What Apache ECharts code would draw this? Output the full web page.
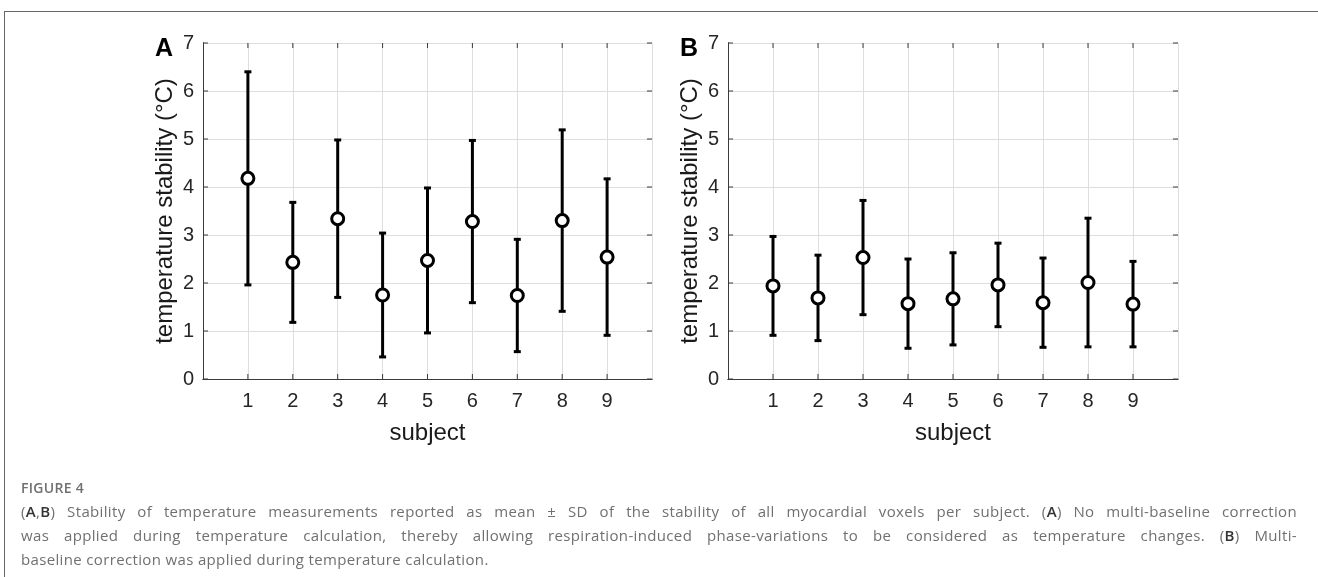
<!DOCTYPE html>
<html>
<head>
<meta charset="utf-8">
<script src="https://cdn.jsdelivr.net/npm/echarts@6.0.0/dist/echarts.min.js"></script>
<style>
  html, body { margin: 0; padding: 0; background: #fff; }
  #wrap { position: relative; width: 1318px; height: 577px; overflow: hidden; }
  #chart { position: absolute; left: 0; top: 0; width: 1318px; height: 577px; }
  #frame { position: absolute; left: 4px; top: 11px; right: -2px; bottom: -2px;
           border-top: 1.5px solid #666; border-left: 1.5px solid #666; }
  #caption { position: absolute; left: 21px; top: 477px; width: 1276px;
             font-family: 'Open Sans', sans-serif; color: #707070; }
  #caption .fig { font-size: 14px; font-weight: 600; letter-spacing: 0.3px; line-height: 22px; }
  #caption .ln { font-size: 15px; letter-spacing: 0.35px; line-height: 24px; white-space: nowrap; }
  #caption .j { text-align: justify; text-align-last: justify; }
  #caption b { color: #333; font-weight: 600; }
</style>
</head>
<body>
<div id="wrap">
  <div id="chart"></div>
  <div id="frame"></div>
  <div id="caption">
    <div class="fig">FIGURE 4</div>
    <div class="ln j">(<b>A</b>,<b>B</b>) Stability of temperature measurements reported as mean ± SD of the stability of all myocardial voxels per subject. (<b>A</b>) No multi-baseline correction</div>
    <div class="ln j">was applied during temperature calculation, thereby allowing respiration-induced phase-variations to be considered as temperature changes. (<b>B</b>) Multi-</div>
    <div class="ln">baseline correction was applied during temperature calculation.</div>
  </div>
</div>
<script>
// subjects and mean / SD of temperature stability (°C)
const subjects = [1, 2, 3, 4, 5, 6, 7, 8, 9]
const meanA = [4.18, 2.43, 3.34, 1.75, 2.47, 3.28, 1.74, 3.30, 2.54]
const sdA = [2.22, 1.25, 1.64, 1.29, 1.51, 1.69, 1.17, 1.89, 1.63]
const meanB = [1.94, 1.69, 2.53, 1.57, 1.67, 1.96, 1.59, 2.01, 1.56]
const sdB = [1.03, 0.89, 1.19, 0.93, 0.96, 0.87, 0.93, 1.34, 0.89]
// tick positions / axis limits
const xTicks = [1, 2, 3, 4, 5, 6, 7, 8, 9]
const yTicks = [0, 1, 2, 3, 4, 5, 6, 7]
const X_MIN = 0, X_MAX = 10
const Y_MIN = 0, Y_MAX = 7
const panelLabels = ['A', 'B']
const yName = 'temperature stability (°C)'
const xName = 'subject'

const FONT = "'Liberation Sans', Arial, sans-serif"
const AXIS_COLOR = '#3a3a3a'
const GRID_COLOR = '#dedede'
const TICK_LEN = 5

const grids = [
  { left: 203, top: 43, width: 449, height: 336 },
  { left: 728, top: 43, width: 450, height: 336 }
]

function errData (mean, sd) {
  return subjects.map((s, i) => [s, mean[i] - sd[i], mean[i] + sd[i]])
}

function renderErr (params, api) {
  const x = api.value(0)
  const lo = api.coord([x, api.value(1)])
  const hi = api.coord([x, api.value(2)])
  const w = 3.5
  const style = { stroke: '#000', lineWidth: 3 }
  return {
    type: 'group',
    children: [
      { type: 'line', shape: { x1: hi[0], y1: hi[1], x2: lo[0], y2: lo[1] }, style },
      { type: 'line', shape: { x1: hi[0] - w, y1: hi[1], x2: hi[0] + w, y2: hi[1] }, style },
      { type: 'line', shape: { x1: lo[0] - w, y1: lo[1], x2: lo[0] + w, y2: lo[1] }, style }
    ]
  }
}

// inward ticks on all four sides of the box (matlab style)
function renderTicks (params, api) {
  const kind = api.value(0)
  const v = api.value(1)
  const style = { stroke: AXIS_COLOR, lineWidth: 1 }
  let a, b
  if (kind === 0) {
    a = api.coord([X_MIN, v])
    b = api.coord([X_MAX, v])
    return {
      type: 'group',
      children: [
        { type: 'line', shape: { x1: a[0], y1: a[1], x2: a[0] + TICK_LEN, y2: a[1] }, style },
        { type: 'line', shape: { x1: b[0], y1: b[1], x2: b[0] - TICK_LEN, y2: b[1] }, style }
      ]
    }
  }
  a = api.coord([v, Y_MIN])
  b = api.coord([v, Y_MAX])
  return {
    type: 'group',
    children: [
      { type: 'line', shape: { x1: a[0], y1: a[1], x2: a[0], y2: a[1] - TICK_LEN }, style },
      { type: 'line', shape: { x1: b[0], y1: b[1], x2: b[0], y2: b[1] + TICK_LEN }, style }
    ]
  }
}

const tickData = yTicks.map(v => [0, v]).concat(xTicks.map(v => [1, v]))

const xAxes = []
const yAxes = []
const series = []
const graphics = []

grids.forEach((g, k) => {
  const base = {
    gridIndex: k,
    type: 'value',
    interval: 1,
    axisLine: { show: true, lineStyle: { color: AXIS_COLOR, width: 1 } },
    axisTick: { show: false },
    splitLine: { show: true, lineStyle: { color: GRID_COLOR, width: 1 } }
  }
  xAxes.push(Object.assign({}, base, {
    position: 'bottom',
    min: X_MIN,
    max: X_MAX,
    name: xName,
    nameLocation: 'middle',
    nameGap: 42,
    nameTextStyle: { fontFamily: FONT, fontSize: 24, color: '#1a1a1a' },
    axisLabel: {
      fontFamily: FONT, fontSize: 20, color: '#262626', margin: 12,
      formatter: v => xTicks.indexOf(v) >= 0 ? String(v) : ''
    }
  }))
  xAxes.push(Object.assign({}, base, {
    position: 'top', min: X_MIN, max: X_MAX, axisLabel: { show: false }, splitLine: { show: false }
  }))
  yAxes.push(Object.assign({}, base, {
    position: 'left',
    min: Y_MIN,
    max: Y_MAX,
    name: yName,
    nameLocation: 'middle',
    nameGap: 26,
    nameTextStyle: { fontFamily: FONT, fontSize: 24, color: '#1a1a1a' },
    axisLabel: { fontFamily: FONT, fontSize: 20, color: '#262626', margin: 9 }
  }))
  yAxes.push(Object.assign({}, base, {
    position: 'right', min: Y_MIN, max: Y_MAX, axisLabel: { show: false }, splitLine: { show: false }
  }))

  const mean = k === 0 ? meanA : meanB
  const sd = k === 0 ? sdA : sdB
  series.push({
    type: 'custom',
    xAxisIndex: k * 2,
    yAxisIndex: k * 2,
    renderItem: renderTicks,
    data: tickData,
    silent: true,
    z: 2
  })
  series.push({
    type: 'custom',
    xAxisIndex: k * 2,
    yAxisIndex: k * 2,
    renderItem: renderErr,
    data: errData(mean, sd),
    z: 3
  })
  series.push({
    type: 'scatter',
    xAxisIndex: k * 2,
    yAxisIndex: k * 2,
    symbol: 'circle',
    symbolSize: 12,
    itemStyle: { color: '#fff', borderColor: '#000', borderWidth: 3, opacity: 1 },
    data: subjects.map((s, i) => [s, mean[i]]),
    z: 4
  })

  graphics.push({
    type: 'text',
    x: g.left - 39,
    y: 49,
    style: {
      text: panelLabels[k],
      font: 'bold 25px ' + FONT,
      fill: '#000',
      textAlign: 'center',
      textVerticalAlign: 'middle'
    }
  })
})

const chart = echarts.init(document.getElementById('chart'), null, { renderer: 'canvas' })
chart.setOption({
  backgroundColor: 'transparent',
  animation: false,
  grid: grids,
  xAxis: xAxes,
  yAxis: yAxes,
  series: series,
  graphic: graphics
})
</script>
</body>
</html>
